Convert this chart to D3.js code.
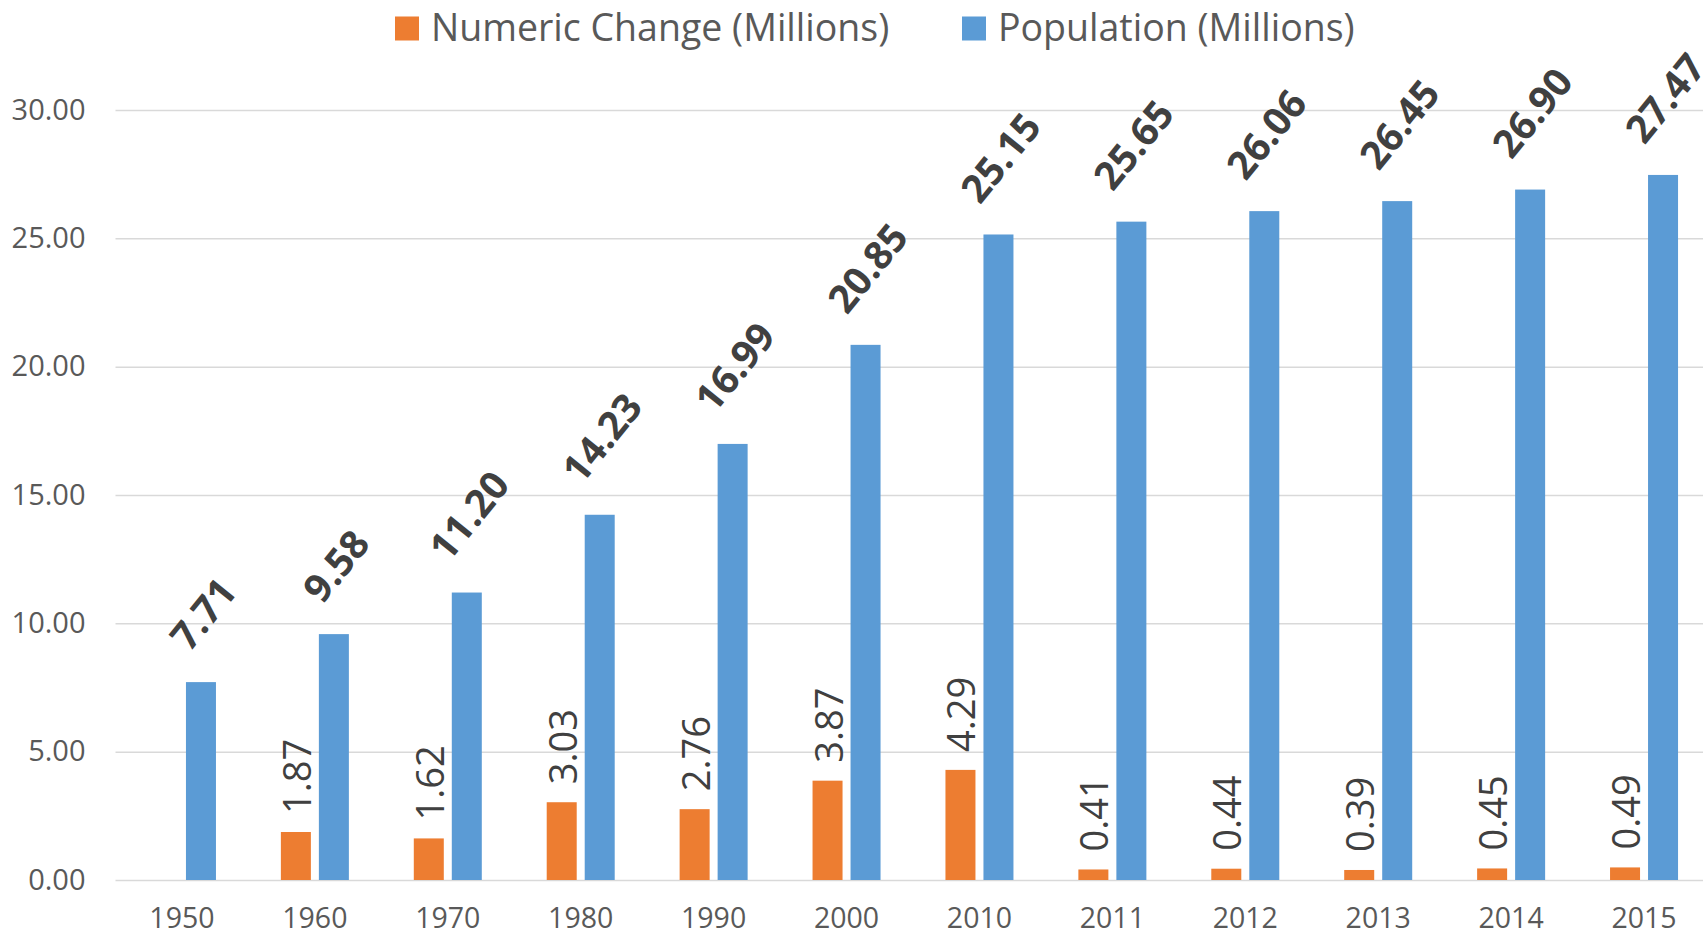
<!DOCTYPE html>
<html>
<head>
<meta charset="utf-8">
<script src="https://cdn.jsdelivr.net/npm/d3@7"></script>
<style>
  html, body { margin: 0; padding: 0; background: #fff; overflow: hidden; }
  svg { display: block; font-family: "Open Sans", "Noto Sans", sans-serif; }
</style>
</head>
<body>
<svg id="chart" width="1703" height="936"></svg>
<script>
const years = ['1950','1960','1970','1980','1990','2000','2010','2011','2012','2013','2014','2015'];
const numericChange = [null, 1.87, 1.62, 3.03, 2.76, 3.87, 4.29, 0.41, 0.44, 0.39, 0.45, 0.49];
const population = [7.71, 9.58, 11.20, 14.23, 16.99, 20.85, 25.15, 25.65, 26.06, 26.45, 26.90, 27.47];
const seriesKeys = ['change', 'pop'];
const seriesNames = ['Numeric Change (Millions)', 'Population (Millions)'];
const yTicks = [0, 5, 10, 15, 20, 25, 30];

const colors = { change: '#ED7D31', pop: '#5B9BD5' };
const W = 1703, H = 936;
const plot = { left: 115.5, right: 1710.5, top: 110, bottom: 880 };

const svg = d3.select('#chart');

const x0 = d3.scaleBand().domain(years).range([plot.left, plot.right]).padding(0);
const bw = x0.bandwidth();
const x1 = d3.scaleBand().domain(seriesKeys).range([bw / 2 - 34, bw / 2 + 34]).paddingInner(8 / 38);
const y = d3.scaleLinear().domain([0, 30]).range([plot.bottom, plot.top]);
const fmt = d3.format('.2f');

// gridlines
const yAxis = d3.axisLeft(y).tickValues(yTicks).tickSize(-(W - plot.left)).tickFormat(fmt).tickPadding(30);
const gy = svg.append('g').attr('transform', `translate(${plot.left},0)`).call(yAxis);
gy.select('.domain').remove();
gy.selectAll('.tick line').attr('stroke', '#d9d9d9').attr('stroke-width', 1.5);
gy.selectAll('.tick text')
  .attr('fill', '#595959').attr('font-size', 29)
  .attr('font-family', '"Open Sans", sans-serif');

// x axis labels
const xAxis = d3.axisBottom(x0).tickSize(0).tickPadding(0);
const gx = svg.append('g').attr('transform', `translate(0,${plot.bottom})`).call(xAxis);
gx.select('.domain').remove();
gx.selectAll('.tick text')
  .attr('fill', '#595959').attr('font-size', 28.5)
  .attr('font-family', '"Open Sans", sans-serif')
  .attr('dy', null).attr('y', 47.5);

const rows = years.map((yr, i) => ({ year: yr, change: numericChange[i], pop: population[i] }));

const groups = svg.append('g').selectAll('g').data(rows).join('g')
  .attr('transform', d => `translate(${x0(d.year)},0)`);

// bars
groups.selectAll('rect').data(d => seriesKeys.filter(k => d[k] != null).map(k => ({ key: k, value: d[k] })))
  .join('rect')
  .attr('x', d => x1(d.key))
  .attr('width', x1.bandwidth())
  .attr('y', d => y(d.value))
  .attr('height', d => y(0) - y(d.value))
  .attr('fill', d => colors[d.key]);

// change labels (vertical)
groups.filter(d => d.change != null).append('text')
  .attr('transform', d => `translate(${x1('change') + x1.bandwidth() / 2},${y(d.change) - 18}) rotate(-90)`)
  .attr('text-anchor', 'start')
  .attr('dominant-baseline', 'central')
  .attr('fill', '#404040')
  .attr('font-size', 38)
  .text(d => fmt(d.change));

// population labels (diagonal, bold)
const ang = 51, rad = ang * Math.PI / 180, pf = 39;
groups.append('text')
  .attr('class', 'poplbl')
  .attr('text-anchor', 'middle')
  .attr('dominant-baseline', 'central')
  .attr('fill', '#404040')
  .attr('font-size', pf)
  .attr('font-weight', 'bold')
  .text(d => fmt(d.pop))
  .each(function (d) {
    const L = this.getComputedTextLength();
    const hh = L * Math.sin(rad) + 0.72 * pf * Math.cos(rad);
    const cx = x1('pop') + x1.bandwidth() / 2 + 1;
    const cy = y(d.pop) - 30 - hh / 2;
    d3.select(this).attr('transform', `translate(${cx},${cy}) rotate(${-ang})`);
  });

// legend
const legendX = [395, 962];
const lg = svg.append('g').selectAll('g').data(seriesKeys).join('g')
  .attr('transform', (d, i) => `translate(${legendX[i]},16.5)`);
lg.append('rect').attr('width', 24).attr('height', 24).attr('fill', d => colors[d]);
lg.append('text').attr('x', 36).attr('y', 24.5).attr('fill', '#595959').attr('font-size', 37.5)
  .text((d, i) => seriesNames[i]);
</script>
</body>
</html>
